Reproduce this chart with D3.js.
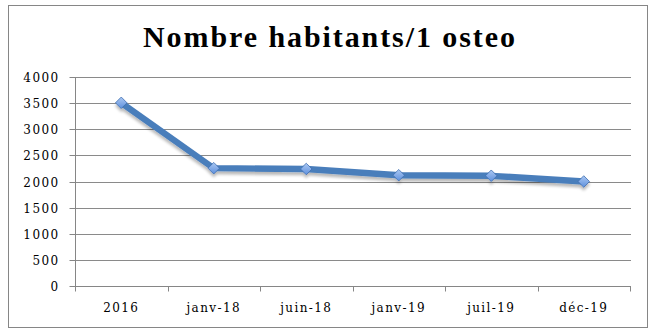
<!DOCTYPE html>
<html>
<head>
<meta charset="utf-8">
<script src="https://cdn.jsdelivr.net/npm/d3@7"></script>
<style>
  html, body { margin: 0; padding: 0; background: #fff; }
  svg { display: block; }
</style>
</head>
<body>
<svg id="chart" width="656" height="336"></svg>
<script>
// Population per osteopath over time
const categories = ["2016", "janv-18", "juin-18", "janv-19", "juil-19", "déc-19"];
const values = [3510, 2255, 2240, 2120, 2110, 2000];
const yTicks = [0, 500, 1000, 1500, 2000, 2500, 3000, 3500, 4000];
const title = "Nombre habitants/1 osteo";

const svg = d3.select("#chart");
const plot = { left: 75, right: 630, top: 77.3, bottom: 285.7 };
const titleFont = "'Liberation Serif', 'DejaVu Serif', serif";
const labelFont = "'DejaVu Serif', 'Liberation Serif', serif";

// Outer frame
svg.append("rect")
  .attr("x", 8.5).attr("y", 5.5)
  .attr("width", 639).attr("height", 322)
  .attr("fill", "#fff").attr("stroke", "#868686").attr("stroke-width", 1);

// Title
svg.append("text")
  .attr("x", 143).attr("y", 47)
  .attr("font-family", titleFont)
  .attr("font-weight", "bold")
  .attr("font-size", 30)
  .attr("textLength", 372)
  .attr("lengthAdjust", "spacing")
  .attr("fill", "#000")
  .text(title);

const x = d3.scaleBand().domain(categories).range([plot.left, plot.right]);
const y = d3.scaleLinear().domain([0, 4000]).range([plot.bottom, plot.top]);
const py = v => Math.round(y(v)) + 0.5;

// Horizontal gridlines
svg.append("g")
  .selectAll("line")
  .data(yTicks.filter(d => d > 0))
  .join("line")
  .attr("x1", plot.left).attr("x2", plot.right + 1)
  .attr("y1", py).attr("y2", py)
  .attr("stroke", "#8a8a8a").attr("stroke-width", 1);

// Y axis
const yAxis = svg.append("g")
  .attr("transform", `translate(${plot.left + 0.5},0)`)
  .call(d3.axisLeft(y).tickValues(yTicks).tickSize(6).tickPadding(10).tickFormat(d3.format("d")));
yAxis.select(".domain").attr("stroke", "#868686")
  .attr("d", `M0,${py(0)}V${py(4000)}`);
yAxis.selectAll(".tick").attr("transform", d => `translate(0,${py(d)})`);
yAxis.selectAll(".tick line").attr("stroke", "#868686");
yAxis.selectAll("text")
  .attr("font-family", labelFont).attr("font-size", 12)
  .attr("letter-spacing", 1.4)
  .attr("dy", "0.36em")
  .attr("fill", "#000");

// X axis with ticks at category boundaries
const xAxisG = svg.append("g")
  .attr("transform", `translate(0,${py(0)})`);
xAxisG.append("line")
  .attr("x1", plot.left).attr("x2", plot.right + 1)
  .attr("stroke", "#868686");
const bounds = categories.map(c => x(c)).concat([plot.right]);
xAxisG.selectAll("line.tk")
  .data(bounds)
  .join("line")
  .attr("class", "tk")
  .attr("x1", d => Math.round(d) + 0.5).attr("x2", d => Math.round(d) + 0.5)
  .attr("y1", 0).attr("y2", 5)
  .attr("stroke", "#868686");
xAxisG.selectAll("text")
  .data(categories)
  .join("text")
  .attr("x", d => x(d) + x.bandwidth() / 2)
  .attr("y", 25.5)
  .attr("text-anchor", "middle")
  .attr("font-family", labelFont).attr("font-size", 12)
  .attr("letter-spacing", 1.4)
  .attr("fill", "#000")
  .text(d => d);

// Soft shadow for the series
const defs = svg.append("defs");
const shadow = defs.append("filter").attr("id", "shadow")
  .attr("x", "-10%").attr("y", "-20%").attr("width", "120%").attr("height", "160%");
shadow.append("feGaussianBlur").attr("in", "SourceAlpha").attr("stdDeviation", 1.6);
shadow.append("feOffset").attr("dx", 0).attr("dy", 2.5).attr("result", "off");
shadow.append("feComponentTransfer").append("feFuncA").attr("type", "linear").attr("slope", 0.28);
const merge = shadow.append("feMerge");
merge.append("feMergeNode");
merge.append("feMergeNode").attr("in", "SourceGraphic");

const grad = defs.append("linearGradient").attr("id", "mk")
  .attr("x1", 0).attr("y1", 0).attr("x2", 0).attr("y2", 1);
grad.append("stop").attr("offset", "0%").attr("stop-color", "#abc8f3");
grad.append("stop").attr("offset", "100%").attr("stop-color", "#5e90dc");

const pts = categories.map((c, i) => [x(c) + x.bandwidth() / 2, y(values[i])]);

const series = svg.append("g").attr("filter", "url(#shadow)");
series.append("path")
  .attr("d", d3.line()(pts))
  .attr("fill", "none")
  .attr("stroke", "#4a7ebb")
  .attr("stroke-width", 6.3)
  .attr("stroke-linejoin", "round");

series.selectAll("path.mk")
  .data(pts)
  .join("path")
  .attr("class", "mk")
  .attr("transform", d => `translate(${d[0]},${d[1]})`)
  .attr("d", d3.symbol(d3.symbolDiamond2, 85)())
  .attr("fill", "url(#mk)")
  .attr("stroke", "#3e6db0")
  .attr("stroke-width", 0.8);
</script>
</body>
</html>
